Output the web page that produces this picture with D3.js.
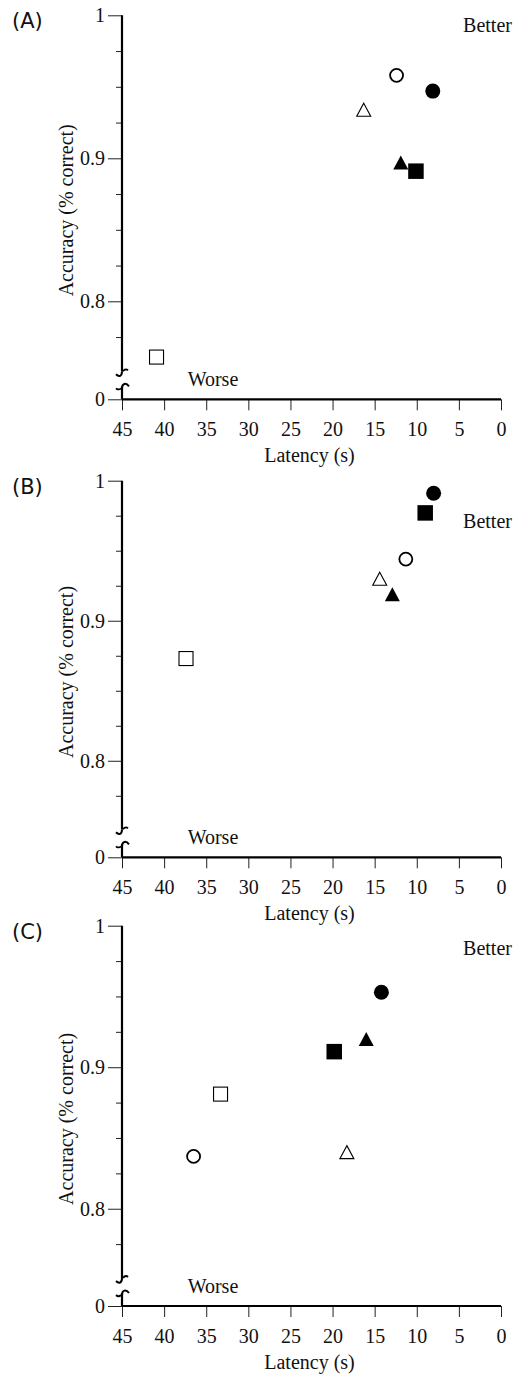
<!DOCTYPE html>
<html>
<head>
<meta charset="utf-8">
<script src="https://cdn.jsdelivr.net/npm/d3@7"></script>
<style>
  body { margin: 0; background: #fff; }
  .tick text { font-family: "Liberation Serif", "Times New Roman", serif; font-size: 20px; fill: #111; }
  .tick line { stroke: #222; stroke-width: 1; }
  .lbl { font-family: "Liberation Serif", "Times New Roman", serif; font-size: 20px; fill: #111; }
  .panel { font-family: "DejaVu Sans", sans-serif; font-size: 21px; fill: #111; }
</style>
</head>
<body>
<script>
// data
var panelNames = ["(A)", "(B)", "(C)"];
var markers = ["open circle", "filled circle", "open triangle", "filled triangle", "open square", "filled square"];

var latencyA  = [12.4, 8.1, 16.3, 11.9, 40.9, 10.1];
var accuracyA = [0.958, 0.947, 0.934, 0.897, 0.761, 0.891];
var latencyB  = [11.3, 8.0, 14.4, 12.9, 37.4, 9.0];
var accuracyB = [0.944, 0.991, 0.930, 0.919, 0.873, 0.977];
var latencyC  = [36.5, 14.2, 18.3, 16.0, 33.3, 19.8];
var accuracyC = [0.837, 0.953, 0.840, 0.920, 0.881, 0.911];

var xTicks = [45, 40, 35, 30, 25, 20, 15, 10, 5, 0];
var yMajor = [0, 0.8, 0.9, 1];
var yMinor = [0.775, 0.825, 0.85, 0.875, 0.925, 0.95, 0.975];

// annotation positions (data units)
var betterAcc = [0.988, 0.966, 0.979];
var betterLat = 4.5;
var worseLat = 37.2;

// layout
var svgWidth = 529, svgHeight = 1375;
var left = 122, right = 501;
var tops = [15.3, 480.7, 925.7];
var bottoms = [399.3, 857.3, 1306];

var svg = d3.select("body").append("svg")
  .attr("width", svgWidth)
  .attr("height", svgHeight);

var allLat = [latencyA, latencyB, latencyC];
var allAcc = [accuracyA, accuracyB, accuracyC];

panelNames.forEach(function (name, i) {
  var top = tops[i], bottom = bottoms[i];
  var g = svg.append("g");

  var x = d3.scaleLinear().domain([45, 0]).range([left, right]);
  var y = d3.scaleLinear().domain([0, 0.75, 1]).range([bottom, bottom - 26.5, top]);

  // x axis
  var xAxis = g.append("g")
    .attr("transform", `translate(0, ${bottom})`)
    .call(d3.axisBottom(x).tickValues(xTicks).tickSize(11).tickPadding(12));
  xAxis.select(".domain").remove();
  g.append("line")
    .attr("x1", left).attr("x2", right)
    .attr("y1", bottom).attr("y2", bottom)
    .attr("stroke", "#000").attr("stroke-width", 2.2);

  // y axis, major + minor ticks
  var yAxis = g.append("g")
    .attr("transform", `translate(${left}, 0)`)
    .call(d3.axisLeft(y).tickValues(yMajor).tickSize(14).tickPadding(3)
      .tickFormat(d => (d === 0 || d === 1) ? d : d.toFixed(1)));
  yAxis.select(".domain").remove();
  var yMin = g.append("g")
    .attr("transform", `translate(${left}, 0)`)
    .call(d3.axisLeft(y).tickValues(yMinor).tickSize(6).tickFormat(""));
  yMin.select(".domain").remove();

  // broken y axis line
  g.append("line")
    .attr("x1", left).attr("x2", left)
    .attr("y1", top).attr("y2", bottom - 28)
    .attr("stroke", "#000").attr("stroke-width", 2.2);
  g.append("line")
    .attr("x1", left).attr("x2", left)
    .attr("y1", bottom - 13).attr("y2", bottom)
    .attr("stroke", "#000").attr("stroke-width", 2.2);
  var u = bottom - 26, l = bottom - 12;
  // little hooks at the axis break
  g.append("path")
    .attr("d", `M${left},${u - 2} C${left},${u + 3} ${left - 3},${u + 4} ${left - 6},${u + 1}`)
    .attr("fill", "none").attr("stroke", "#000").attr("stroke-width", 2);
  g.append("path")
    .attr("d", `M${left + 1},${u - 2} C${left + 3},${u - 5} ${left + 5},${u - 4} ${left + 6},${u - 3}`)
    .attr("fill", "none").attr("stroke", "#000").attr("stroke-width", 1.8);
  g.append("path")
    .attr("d", `M${left},${l + 1} C${left},${l - 4} ${left + 4},${l - 5} ${left + 7},${l - 1}`)
    .attr("fill", "none").attr("stroke", "#000").attr("stroke-width", 2);
  g.append("path")
    .attr("d", `M${left - 1},${l + 1} C${left - 3},${l + 3} ${left - 5},${l + 2} ${left - 6},${l + 1}`)
    .attr("fill", "none").attr("stroke", "#000").attr("stroke-width", 1.8);

  // axis titles
  g.append("text")
    .attr("class", "lbl")
    .attr("text-anchor", "middle")
    .attr("x", (left + right) / 2 - 2)
    .attr("y", bottom + 63)
    .text("Latency (s)");
  g.append("text")
    .attr("class", "lbl")
    .attr("text-anchor", "middle")
    .attr("transform", `translate(73, ${(top + bottom) / 2 + 3}) rotate(-90)`)
    .text("Accuracy (% correct)");

  // panel letter
  g.append("text")
    .attr("class", "panel")
    .attr("x", 12)
    .attr("y", top + 13)
    .text(name);

  // better / worse
  g.append("text")
    .attr("class", "lbl")
    .attr("x", x(betterLat))
    .attr("y", y(betterAcc[i]))
    .text("Better");
  g.append("text")
    .attr("class", "lbl")
    .attr("x", x(worseLat))
    .attr("y", bottom - 13)
    .text("Worse");

  // points
  var pts = markers.map(function (m, k) {
    return { marker: m, lat: allLat[i][k], acc: allAcc[i][k] };
  });

  pts.forEach(function (d) {
    var cx = x(d.lat), cy = y(d.acc);
    var filled = d.marker.indexOf("filled") === 0;
    var fill = filled ? "#000" : "#fff";
    if (d.marker.indexOf("circle") > 0) {
      g.append("circle")
        .attr("cx", cx).attr("cy", cy)
        .attr("r", filled ? 7.5 : 6.5)
        .attr("fill", fill)
        .attr("stroke", "#000")
        .attr("stroke-width", filled ? 0 : 1.8);
    } else if (d.marker.indexOf("triangle") > 0) {
      var w = filled ? 15 : 14, h = filled ? 14 : 13;
      g.append("path")
        .attr("d", `M${cx},${cy - h / 2} L${cx + w / 2},${cy + h / 2} L${cx - w / 2},${cy + h / 2} Z`)
        .attr("fill", fill)
        .attr("stroke", "#000")
        .attr("stroke-width", filled ? 0 : 1.1);
    } else {
      var s = filled ? 15.5 : 14;
      g.append("rect")
        .attr("x", cx - s / 2).attr("y", cy - s / 2)
        .attr("width", s).attr("height", s)
        .attr("fill", fill)
        .attr("stroke", "#000")
        .attr("stroke-width", filled ? 0 : 1.1);
    }
  });
});
</script>
</body>
</html>
